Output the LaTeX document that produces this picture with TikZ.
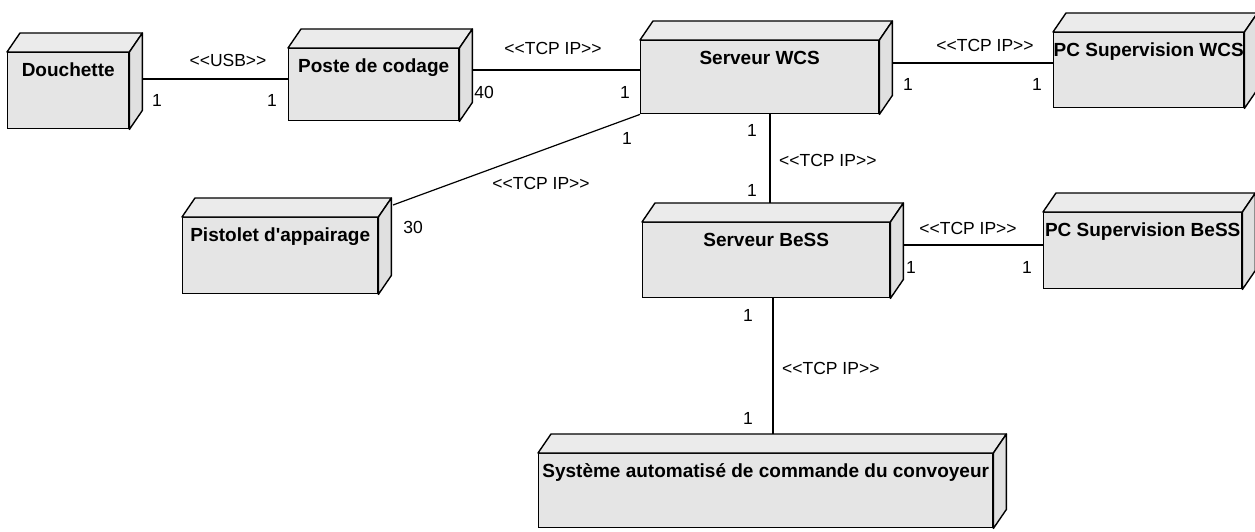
\documentclass[tikz,border=0pt]{standalone}
\usepackage{fontspec}
\setmainfont{Liberation Sans}
\usetikzlibrary{calc}
\pgfdeclarelayer{bg}
\pgfsetlayers{bg,main}
\definecolor{boxfill}{gray}{0.90}
\definecolor{topfill}{gray}{0.92}
\definecolor{sidefill}{gray}{0.88}
\tikzset{
  x=1pt, y=1pt,
  nodebox/.style={draw=black, line width=1.4pt, fill=boxfill, inner xsep=0pt, inner ysep=0pt,
    text height=24pt, text depth=#1, anchor=north west, align=center,
    font=\bfseries\fontsize{19}{19}\selectfont},
  topface/.style={draw=black, line width=1.4pt, fill=topfill, line join=round},
  sideface/.style={draw=black, line width=1.4pt, fill=sidefill, line join=round},
  conn/.style={draw=black, line width=1.2pt},
  lbl/.style={inner sep=0pt, font=\fontsize{17.5}{17.5}\selectfont},
}
\begin{document}
\begin{tikzpicture}
\useasboundingbox (0,0) rectangle (1255,-532);
% nodes (front faces)
\node[nodebox=52pt, minimum width=121pt] (dou) at (7,-52) {Douchette};
\node[nodebox=48pt, minimum width=170pt] (pos) at (288,-48) {Poste de codage};
\node[nodebox=49pt, minimum width=238pt] (wcs) at (640,-40) {Serveur WCS};
\node[nodebox=51pt, minimum width=188pt] (pcw) at (1053,-32) {PC Supervision WCS};
\node[nodebox=52pt, minimum width=195pt] (pis) at (182,-217) {Pistolet d\textquotesingle appairage};
\node[nodebox=51pt, minimum width=247pt] (bes) at (642,-222) {Serveur BeSS};
\node[nodebox=52pt, minimum width=198pt] (pcb) at (1043,-212) {PC Supervision BeSS};
\node[nodebox=50pt, minimum width=454pt] (sys) at (538,-453) {Système automatisé de commande du convoyeur};
% 3D faces
\foreach \n in {dou,pos,wcs,pcw,pis,bes,pcb,sys}{
  \path[topface] (\n.north west) -- ++(13,19) -- ($(\n.north east)+(13,19)$) -- (\n.north east) -- cycle;
  \path[sideface] (\n.north east) -- ++(13,19) -- ($(\n.south east)+(13,19)$) -- (\n.south east) -- cycle;
}
% helper coordinates for connector heights
\coordinate (y1) at (0,-79);
\coordinate (y2) at (0,-70);
\coordinate (y4) at (0,-63);
\coordinate (y6) at (0,-245);
\coordinate (x5) at (770,0);
\coordinate (x7) at (773,0);
\coordinate (pisr) at (393,-205);
\begin{pgfonlayer}{bg}
\draw[conn] (dou.east |- y1) -- (pos.west |- y1);
\draw[conn] (pos.east |- y2) -- (wcs.west |- y2);
\draw[conn] (pisr) -- (wcs.south west);
\draw[conn] (wcs.east |- y4) -- (pcw.west |- y4);
\draw[conn] (wcs.south -| x5) -- (bes.north -| x5);
\draw[conn] (bes.east |- y6) -- (pcb.west |- y6);
\draw[conn] (bes.south -| x7) -- (sys.north -| x7);
\end{pgfonlayer}
% connector labels
\node[lbl] (l1s) at (228,-60) {<{}<USB>{}>};
\node[lbl] (l1a) at (157,-100) {1};
\node[lbl] (l1b) at (272,-100) {1};
\node[lbl] (l2s) at (553,-48) {<{}<TCP IP>{}>};
\node[lbl] (l2a) at (484,-92) {40};
\node[lbl] (l2b) at (625,-92) {1};
\node[lbl] (l3s) at (541,-183) {<{}<TCP IP>{}>};
\node[lbl] (l3a) at (413,-227) {30};
\node[lbl] (l3b) at (627,-138) {1};
\node[lbl] (l4s) at (985,-45) {<{}<TCP IP>{}>};
\node[lbl] (l4a) at (908,-84) {1};
\node[lbl] (l4b) at (1037,-84) {1};
\node[lbl, anchor=west] (l5s) at (779,-160) {<{}<TCP IP>{}>};
\node[lbl] (l5a) at (752,-130) {1};
\node[lbl] (l5b) at (752,-190) {1};
\node[lbl] (l6s) at (968,-228) {<{}<TCP IP>{}>};
\node[lbl] (l6a) at (911,-267) {1};
\node[lbl] (l6b) at (1027,-267) {1};
\node[lbl, anchor=west] (l7s) at (782,-368) {<{}<TCP IP>{}>};
\node[lbl] (l7a) at (748,-315) {1};
\node[lbl] (l7b) at (748,-418) {1};
\end{tikzpicture}
\end{document}
